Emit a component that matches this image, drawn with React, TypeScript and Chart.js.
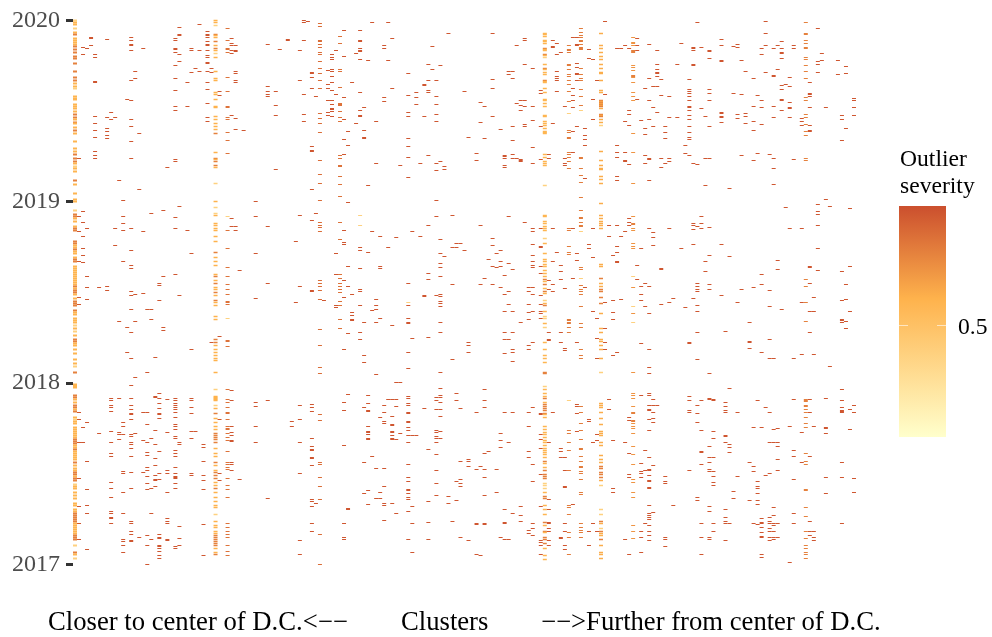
import React, { useEffect, useRef } from "react";
import { Chart, registerables } from "chart.js";

Chart.register(...registerables);

// x = cluster number, ordered by distance from the centre; y = two-day period counted from Jan 2017.
const yearTicks = [0, 181.33, 362.67, 544];
const yearLabels = ["2017", "2018", "2019", "2020"];
const xAxisParts = ["Closer to center of D.C.<−−", "Clusters", "−−>Further from center of D.C."];

const marks2019to2020: [number, number[]][] = [
  [0, [544,542,540,536,532,530,526,524,522,520,518,515,512,508,506,501,493,487,484,481,478,476,468,466,465,460,458,456,453,450,447,445,442,441,437,434,431,423,416,413,410,406,403,401,398,396,393,384,380,371,365]],
  [1, [406]], [2, [517,510]], [3, [516]], [4, [527,526,519]],
  [5, [510,507,483,482,448,441,434,427,413,409,406]],
  [8, [525,447,436,433,429,426]], [9, [452,445]], [10, [447]], [11, [384]], [13, [465]],
  [14, [527,524,520,519,514,484,464,445,438,423,406]], [15, [493,486]], [16, [431,375]], [17, [516]], [23, [397]],
  [25, [526,524,516,515,512,499,486,474,458,454,405,403]],
  [26, [537,530,529,510,503]], [28, [482,458]], [29, [516,514,492]], [30, [496]], [31, [540,514,493]],
  [33, [533,530,529,527,523,520,519,514,509,507,502,501,493,482,475,461,447,443]], [34, [496,492]],
  [35, [544,542,539,530,529,527,523,519,516,514,511,507,493,486,484,472,470,465,458,457,448,445,441,438,435,431,412,406,405,403,399,397,381]],
  [36, [473,469]], [38, [536,524,516,515,512,487,473,458,457,447,445,432,424,411]],
  [39, [526,521,519,514,511,449]], [40, [519,514,513,493,491,484,482,446,435]], [42, [434]],
  [48, [520,478,473,470,468]], [50, [473,459,449,395]], [51, [515]], [53, [525,524]], [56, [514,484]],
  [57, [544,542,524,470,450,443]], [58, [543]], [59, [492,491,487,476,418,414,413,375]], [60, [468]],
  [61, [541,538,524,523,520,517,512,510,503,496,491,484,476,451,446,441,432,404,390,381]],
  [63, [494,480,476,464,452,449]], [64, [510,507,505,495,493,488,482,474,464,460,456,455,453,448]], [65, [514,470]],
  [66, [528,521,495,493,477,461,460,459,453,447,443,409,406,399,398,388,380,368]],
  [67, [534,508,467,445,425,410]], [68, [433,419]], [69, [482]], [70, [511,441]],
  [71, [534,524,523,516,514,513,505,472,454,449,448]], [72, [457,434,427,426]], [73, [504,379]], [74, [542]], [75, [443,401]],
  [77, [519,516,467,463]], [78, [542,504]], [79, [526,476]], [81, [399]], [83, [491,469,452,448,426,418,407,387]],
  [85, [472,467,460]], [86, [401]], [87, [448,480,479]], [88, [500,484,474,472,409]], [89, [518,495]],
  [90, [484,468,460,450,443,401,394]], [91, [499,403]], [92, [398,395]], [93, [531]], [97, [473]], [98, [427]],
  [100, [411,404]], [101, [462,442]], [102, [458,426]], [104, [531,485,476,448]], [106, [435]],
  [107, [409,408,406,399,397]], [108, [493,490]], [109, [493,486,438,424,410,406]], [110, [519,461,406]],
  [111, [464,459,454,405,404,403]], [112, [526,524,500,464,458,440,438]], [114, [496,458,444,417,401]],
  [116, [474,471,438,405]],
  [117, [531,530,528,524,523,521,516,515,514,510,509,507,500,496,495,492,490,484,483,482,476,472,465,464,461,458,449,448,443,441,439,436,433,432,431,410,407,403,401,399,379]],
  [118, [410,406]], [119, [524,518,517,441]], [120, [521,510,493,488,486,484,473]], [121, [512]], [122, [458,406,401,399]],
  [123, [519,515,514,512,500,499,495,490,488,484,480,473,463,451,434,432,427,426,412,410,407,403,396]],
  [124, [527,476,469,464,457,433,412]], [125, [527,520,519,501,497,491,490,484,438]],
  [126, [536,532,529,527,524,523,520,517,516,515,496,490,486,484,475,468,459,454,407,406,396,389,382,367]],
  [127, [436,429,425,419,386]], [128, [515,506]], [129, [505,465,445]], [130, [484]],
  [131, [531,519,516,512,508,505,500,496,492,491,484,474,472,464,463,462,461,460,459,458,456,450,449,448,445,442,439,413,404,399,396,395,388,385,381]],
  [132, [543,470]], [135, [516,419,412,407,388,384]], [136, [516]], [137, [519,443,412,404,403]],
  [138, [516,454,450,439,400]],
  [139, [527,522,521,519,514,513,512,499,497,494,489,488,487,482,472,468,464,431,412,381]],
  [140, [526,519,514,465]], [141, [444]], [142, [476,436,430,409,401]], [143, [520,486,464,445,384,406,405]],
  [144, [478,457,438]], [145, [514,500,495,492,491,488,478,452]], [146, [485,469,406,397]], [147, [438,432,426,401]],
  [148, [468,447,406,403]], [150, [500,447]], [151, [521]], [152, [419,411]],
  [153, [485,475,473,471,468,464,458,457,454,449,445,438,432,427,425,409]], [154, [517,516,514,500,499,401]],
  [155, [542,400]], [156, [517,456]], [157, [448,406,379]], [158, [514,513,506,475,471,464,438,406]],
  [161, [525,519,504,503,452,451,448,447,442]], [163, [376]], [164, [518,471]], [165, [520,517,450,446]],
  [166, [504,470,409]], [167, [493,451,448,441]], [169, [486,458,443,434,404]], [170, [469,411]],
  [171, [516,510,464,457,440]], [172, [543,531,519,492]], [173, [410]], [174, [516,489,488,458,447,406,396,380]],
  [175, [519,495]], [176, [523,516,512,511,506,479,475,465,464,454]], [177, [480]],
  [178, [487,478,462,457,456,447]], [179, [519,516,405]], [181, [446,443,439]],
  [182, [542,531,530,524,521,517,516,507,505,499,493,486,467,464,450,447,440,433,429,406,404]],
  [183, [482,471,470,468,457,439,434,433]], [185, [536,503,500,492]], [186, [511,504]], [187, [457,365]],
  [190, [504,490]], [191, [449,445,424]], [192, [498,491,436]], [194, [466,464,457,449]],
];

const marks2018to2019: [number, number[]][] = [
  [0, [363,354,350,348,346,343,338,336,334,323,321,319,317,315,313,311,307,305,303,298,296,294,292,290,288,286,284,282,280,278,276,274,272,270,266,263,261,259,254,252,250,246,244,242,239,236,233,229,225,223,221,219,215,211,205,201,198,192,180,178,167,165]],
  [1, [348,333,303,267,260]], [2, [353,342,328,316,309,302]], [3, [336,288,277,265]], [6, [277]], [8, [278,274]], [9, [166]],
  [10, [336,319]], [11, [243,166]], [12, [364,348,341,334,303]], [13, [237,212]],
  [14, [336,314,299,296,273,269,255,232,206,179,166]], [15, [270,243,187]], [17, [333,271]], [18, [255,192]],
  [19, [351,255,245]], [20, [207,168,167]], [21, [281,279,264,171,166]], [22, [354,288,237,234]], [23, [165]],
  [25, [347,336,290,166]], [26, [358,269]], [28, [334]], [29, [311,215,166]], [34, [222]],
  [35, [363,357,351,349,341,339,336,334,328,323,312,307,303,299,290,288,284,281,277,275,272,269,264,262,259,248,245,225,222,219,215,212,209,206,204,192,175,167,165]],
  [36, [228]], [38, [348,334,316,297,288,280,275,270,263,262,260,246,224,223,218,175,165]], [39, [346,338,174]],
  [40, [338,334]], [41, [294]], [45, [363,348,311,266]], [48, [338,281]], [55, [323,262]], [56, [349,278]],
  [59, [344,274,273]], [60, [351]],
  [61, [364,342,339,337,333,284,281,278,274,265,235,219,197,191]], [62, [264]], [65, [311,290,259,257]],
  [66, [342,325,290,286,281,278,275,272,263,259,245,236]], [67, [334,322,320,284,267,215]],
  [68, [362,298,278,231,170]], [69, [270,252,249,245,244]],
  [71, [349,339,317,314,296,275,273,259,232,225]], [72, [242,209,202]], [73, [312,169]], [74, [333,254]],
  [75, [265,259,255,242,190]], [76, [328,298,296,246]], [78, [317,165]], [79, [239,165]], [80, [327,182]],
  [83, [281,262,259,246,242,241,212,196,168,166]], [84, [333,226]], [86, [328]], [87, [269,268]], [88, [227,339,291,285]],
  [90, [364,348,269,167]], [91, [325,311,301,297,288,270,268,263,261,258,242,232,192,176,169,167]], [92, [308]],
  [94, [349,317,280,205]], [95, [321,317,171]], [96, [321]], [97, [314]], [98, [222,219,212]],
  [101, [339,280]], [102, [286,175]], [103, [305]], [104, [326,319,298,280]], [105, [311,297]],
  [106, [314,303,298,277]], [107, [289,270,253,232,225,211]], [108, [348,301,273,260,225]],
  [109, [295,253,232,215,212,203]], [111, [242]], [112, [342]], [113, [277,273,260,252,245,219,215]],
  [114, [336,333,320,309,303,299,297,277,270,253,222]], [116, [336,318,317,298,291,269,260,253,251,246]],
  [117, [349,348,343,341,338,336,334,326,321,311,305,303,300,298,294,291,288,285,283,280,276,273,271,264,261,259,253,248,246,241,237,222,215,209,206,202,192,191,178,175,171,168,166]],
  [118, [284,275,232,225,224]], [119, [336,303,280,273]], [120, [312]], [121, [299,293,285,232,222]], [122, [276,216,214]],
  [123, [336,334,318,312,310,245,244,242,241,237,232]], [124, [336,286]], [125, [311,304,222]],
  [126, [354,347,346,342,339,338,333,297,295,286,279,275,273,270,258,241,237,215,209,206]],
  [127, [277]], [128, [320,316]], [129, [336,307,253]], [130, [246,226,206]],
  [131, [361,349,346,343,341,339,336,300,298,286,281,278,275,273,267,261,251,236,232,225,223,219,215,206,192]],
  [132, [262,236,222,215]], [133, [339,328]], [134, [264,252,245,309,209]], [135, [339,318,312,303,302,212]], [136, [328,265]],
  [137, [333]], [138, [346,342,339]],
  [139, [348,341,340,336,334,321,318,316,288,277,258,251,242,192,171,169,166]], [140, [299,285]],
  [141, [316,278,270,264,221,169]], [142, [281,258]], [143, [336,278,251,215,197,191,171,169]],
  [144, [332,327,319,165]], [146, [296,295,260]], [148, [336,262]], [149, [266]], [151, [316]], [152, [257]],
  [153, [222,221,168]], [154, [341,339,335,320,266]], [155, [338,281,278,275,273,259,253,232,205]],
  [156, [348,341,336]], [157, [303,293]], [158, [337,309,280,275,191,166,165]], [161, [320,269]], [162, [233]],
  [163, [308,176]], [165, [262]], [166, [275]], [168, [242,223,222,216]], [169, [277]], [171, [290,280,212]],
  [173, [274,258,225,206]], [174, [206]], [175, [304,295]], [176, [255]], [177, [357]], [178, [336]],
  [179, [206,165]], [181, [336,262,210]], [182, [285,278,262,243,165]], [183, [298,297,281,253,232,165]],
  [184, [267,253,210]], [185, [360,353,350,339,316,294]], [187, [166]], [188, [358,198]],
  [191, [293,264,245,244,242,175]], [192, [280,265,243,236]], [193, [356,298,253]],
];

const marks2017to2018: [number, number[]][] = [
  [0, [179,177,169,167,165,162,159,157,155,153,147,145,143,141,137,135,133,131,129,127,125,123,121,119,117,115,113,111,109,107,105,102,99,96,94,92,90,88,86,84,80,78,76,72,69,66,61,59,55,53,51,49,47,45,43,41,39,37,35,33,31,29,27,25,19,12,10,6]],
  [1, [152,145,122,86,58,41,25]], [2, [137,122]], [3, [142,103,75,59,51,15]], [6, [131]],
  [9, [166,164,159,157,153,133,122,111,108,82,76,67,53,51,47,46,41]], [11, [166,132,130,125]],
  [12, [142,138,130,93,91,72,51,25,23,19,12]],
  [14, [179,166,159,155,151,150,145,130,128,122,120,116,108,92,76,43,41,33,30,24,23]], [15, [131]], [16, [27]],
  [17, [152,124,92]], [18, [152,140,122,112,109,97,94,88,81,75,29,19,0]], [19, [126,76,51,25]],
  [20, [168,167,134,120,106,99,89,85,84,78]], [21, [171,166,161,156,151,150,146,113,91,85,30,27,26,19,18,16,13,9,6]],
  [23, [165,132,94,91,72,46,43,41,25,24]],
  [25, [166,164,161,159,157,155,152,147,140,138,135,128,126,114,111,108,97,91,88,87,86,81,76,18,16]],
  [26, [122,120,38,26,19]], [29, [166,164,157,151,133,126,91,89]], [30, [133]], [32, [120,117,103,89,84,75,40,9]],
  [35, [175,168,166,164,159,156,151,146,142,138,135,131,129,127,125,122,116,111,108,102,99,94,92,89,86,82,79,76,72,67,63,59,57,50,43,39,37,33,31,29,27,25,23,21,19,16,12,10]],
  [36, [145,91,84]],
  [38, [175,165,162,157,152,151,145,138,136,135,131,127,124,113,102,100,97,95,86,79,75,67,41,37,33,30,27,19,13,9]],
  [39, [174,164,138,132,129,124,123,102,100,94]], [41, [85]], [45, [162,158,138,122]], [48, [164,66]], [54, [143,138]],
  [56, [159,145,122,91,24,10]],
  [59, [160,157,153,126,118,115,114,107,106,99,65,63,58,41,33]], [60, [61]],
  [61, [150,144,102,100,87,78,65,30,0]], [67, [162,154,119,41,27,25]], [68, [170,56,55]], [72, [157,102,71]],
  [73, [169,161,154,153,138,133,132,130,126,125,74,60]], [74, [108]], [75, [96,66]], [76, [147,72,66]],
  [77, [159,152,143,141,96,78,61,59,44]], [79, [165,148,140,139,133,132,129,126,125,61]], [80, [165,158,125,51]],
  [81, [182,131]], [83, [168,166,161,159,152,151,143,142,137,134,129,122,100,87,83,75,74,71,67,65,53,25]],
  [84, [129,58,41,12]], [85, [129]], [87, [156]], [88, [115,63,42,25]],
  [90, [167,164,155,134,132,128,126,122,110,94,81,69]], [91, [176,169,167,162,155,148,133,126]],
  [93, [68,61]], [94, [43]], [95, [171,164,83,64]], [96, [156,103,85,81,78,27]], [98, [105,103,98,24]],
  [100, [152,95,10,41,40]], [101, [98,9]], [102, [175,164,157,111,95,87,69,41,40]], [103, [113]], [105, [95,72]],
  [106, [131,124,117,27]], [107, [152,55,42,41,25]], [108, [122,25]], [109, [152,51]], [111, [58,49,43]],
  [113, [152,138,113,107,34,31]], [114, [157,100,83,41,36,29]],
  [116, [151,150,130,125,116,90,58,24,22,19,10]],
  [117, [178,175,171,168,166,162,160,158,156,154,151,150,147,138,135,132,130,127,124,122,119,116,114,112,110,107,103,101,97,94,90,88,86,81,79,76,72,68,66,59,55,50,42,39,33,32,27,25,21,16,9,5]],
  [118, [122,65,55,42,41,36,33,24,19]], [119, [152]], [121, [116,113,107,27,26]], [122, [107,94,78,77,41,33,19,15]],
  [123, [164,134,131,122,114,94,59,57,50,32,27,10]], [124, [60]], [125, [160,158,151,133]],
  [126, [158,152,141,134,125,116,115,108,103,98,97,93,91,85,72,70,41,37,34,32,27]], [128, [145,143,33,19]],
  [129, [122,41]], [130, [130,124,33]],
  [131, [161,159,157,152,146,140,133,131,129,122,119,109,105,102,98,96,92,90,87,84,79,55,50,43,41,36,33,31,29,25,19,12,10,6]],
  [133, [165,155]], [134, [124,76,72]], [137, [122,25]], [138, [147,144,111,90,87,10]],
  [139, [171,169,166,158,152,151,144,143,141,138,136,131,118,110,100,85,82,72,67,39,33,26]],
  [141, [169,101,93,91,87,33,27,12]], [142, [114,94,41]],
  [143, [171,169,159,155,154,145,134,107,95,94,89,84,83,77,76,59,51,49,47,45,39,33,29,24]],
  [144, [165,159,152,146,142,99,52]], [145, [159]], [147, [88,83,81,27,25,18]], [149, [59]],
  [153, [164,154,152,94]], [155, [159,151,142,67,64]], [156, [164,134,113,112,100,41,27,10]],
  [158, [118,107,102,95,93,58,53,27,25]], [159, [165,164,133,126,107,93,88,82,79,41,33]],
  [162, [162,158,154,152,129,128,122,55,47,43,41,24]], [163, [176,120,117,112,41]], [164, [73,66]], [165, [152,88]],
  [168, [102,64]], [169, [137,98,93,41]], [170, [164,83,78,76,71,64,60,40]],
  [171, [137,46,42,41,37,32,28,27,10,7]], [172, [157,89]], [173, [152,122,91,47,43,41,36,33,27,24]],
  [174, [135,122,57,49,41,39,33,27,25]], [175, [136,122,118,105,94,41,27]], [178, [138,2]],
  [179, [165,114,108,85,51,41]], [181, [132,102]],
  [182, [164,163,159,158,155,152,147,141,137,111,103,100,75,74,57,48,33,26,19,16,12,10,6]],
  [183, [165,152,108,43,33,29]], [184, [138,33,27,24]], [187, [166,137,136,131,87,71]],
  [191, [175,164,157,154,153,152,102,87,41]], [193, [155,135]], [194, [159,152,86,72]],
];

// Severity of each cluster's ordinary marks; other clusters read as the top of the scale.
const clusterSeverity: [number, number][] = [
  [0, 0.58], [35, 0.6], [117, 0.58], [131, 0.62], [139, 0.72], [123, 0.82], [126, 0.82], [182, 0.8], [66, 0.86], [61, 0.88], [38, 0.86],
];
const ordinarySeverity = 0.97;

// Marks inside the busy clusters that are visibly darker or paler than their neighbours.
const strongerMarks: [number, number[]][] = [
  [0, [530,518,515,512,508,506,501,493,487,484,450,447,442,434,410,406,403,384,350,348,336,334,323,321,315,305,303,278,274,272,263,261,259,254,225,223,192,169,167,159,157,153,125,123,121,115,102,92,90,86,84,51,49,47,45,43,29,27,25,12]],
  [35, [530,523,516,431,406,403,399,312,288,281,272,264,225,222,151,131,129,127,125,122,102,92,89,86,76,29,27,25,23,21,19,10]],
  [117, [516,510,496,484,285,280,273,259,192,191,166,160,158,156,154,151,103,94,90,88,86,68,66,42,33,27,25,21]],
  [131, [464,462,460,458,450,448,286,275,273,267,261,98,96,92,90,87,43,33,25]],
  [139, [514,513,512,489,488,341,340,152,151,144,143]],
];
const paleMarks: [number, number[]][] = [
  [0, [544,536,496,476,398,354,239,233,198,145,80,19,6]],
  [35, [539,511,381,357,351,175,159,50]],
  [117, [507,379,326,264,248,246,237,178,81,79,76]],
  [131, [439,192,79,55,50,36]],
  [25, [441]], [38, [348,246]], [71, [349,339]], [83, [262]], [123, [451,164]], [126, [454,333,286]], [139, [288,258,242]],
];

// Busiest clusters: how many periods one of their marks covers.
const markSpan: [number, number][] = [[0, 2], [35, 1.5], [117, 1.5], [131, 1.5]];

const legendTitle = ["Outlier", "severity"];
const legendLabel = "0.5";
const legendStops: [number, string][] = [[0, "#ffffcc"], [0.6, "#feb24c"], [1, "#cb4f2e"]];

const hex = (s: string) => [1, 3, 5].map((i) => parseInt(s.slice(i, i + 2), 16));
function severityColor(t: number) {
  for (let i = 1; i < legendStops.length; i++) {
    const [t0, c0] = legendStops[i - 1];
    const [t1, c1] = legendStops[i];
    if (t <= t1) {
      const f = (t - t0) / (t1 - t0);
      const a = hex(c0);
      const b = hex(c1);
      return `rgb(${a.map((v, j) => Math.round(v + (b[j] - v) * f)).join(",")})`;
    }
  }
  return legendStops[legendStops.length - 1][1];
}

function buildPoints() {
  const base = new Map(clusterSeverity);
  const spans = new Map(markSpan);
  const key = (k: number, v: number) => `${k}:${v}`;
  const strong = new Set<string>();
  const pale = new Set<string>();
  strongerMarks.forEach(([k, vs]) => vs.forEach((v) => strong.add(key(k, v))));
  paleMarks.forEach(([k, vs]) => vs.forEach((v) => pale.add(key(k, v))));
  const seen = new Set<string>();
  const points: { x: number; y: number }[] = [];
  const colors: string[] = [];
  const widths: number[] = [];
  [marks2019to2020, marks2018to2019, marks2017to2018].forEach((table) =>
    table.forEach(([k, vs]) =>
      vs.forEach((v) => {
        const id = key(k, v);
        if (seen.has(id)) return;
        seen.add(id);
        points.push({ x: k, y: v });
        const s = pale.has(id) ? 0.36 : strong.has(id) ? 0.8 : base.get(k) ?? ordinarySeverity;
        colors.push(severityColor(s));
        widths.push(spans.get(k) ?? 1);
      })
    )
  );
  return { points, colors, widths };
}

const colorbarPlugin = {
  id: "colorbar",
  afterDraw(chart: Chart) {
    const ctx = chart.ctx;
    const x = 899, y = 206, w = 47, h = 231;
    const grad = ctx.createLinearGradient(0, y + h, 0, y);
    legendStops.forEach(([t, c]) => grad.addColorStop(t, c));
    ctx.save();
    ctx.fillStyle = grad;
    ctx.fillRect(x, y, w, h);
    ctx.fillStyle = "rgba(255,255,255,0.6)";
    ctx.fillRect(x, 325, 9, 1);
    ctx.fillRect(x + w - 9, 325, 9, 1);
    ctx.fillStyle = "#000";
    ctx.font = '23.6px "Liberation Serif"';
    ctx.textBaseline = "alphabetic";
    ctx.textAlign = "left";
    ctx.fillText(legendTitle[0], 900, 166);
    ctx.fillText(legendTitle[1], 900, 193);
    ctx.fillText(legendLabel, 958, 334);
    ctx.font = '26.67px "Liberation Serif"';
    ctx.fillText(xAxisParts[0], 48, 630);
    ctx.fillText(xAxisParts[1], 401, 630);
    ctx.fillText(xAxisParts[2], 541, 630);
    ctx.restore();
  },
};

export default function App() {
  const ref = useRef<HTMLCanvasElement>(null);
  useEffect(() => {
    document.body.style.margin = "0";
    const { points, colors, widths } = buildPoints();
    const chart = new Chart(ref.current!, {
      type: "scatter",
      data: {
        datasets: [
          {
            data: points,
            pointStyle: "line",
            pointRadius: 2,
            pointBorderWidth: widths,
            pointBorderColor: colors,
            pointBackgroundColor: colors,
            clip: false,
          } as any,
        ],
      },
      options: {
        responsive: false,
        animation: false,
        events: [],
        layout: { padding: { top: 5, right: 136, left: 0, bottom: 0 } },
        plugins: { legend: { display: false }, tooltip: { enabled: false } },
        scales: {
          x: {
            type: "linear",
            min: -0.5,
            max: 194.5,
            grid: { display: false },
            border: { display: false },
            ticks: { display: false },
            afterFit(scale: any) {
              scale.height = 57;
            },
          },
          y: {
            type: "linear",
            min: -15.5,
            max: 549.5,
            afterBuildTicks(scale: any) {
              scale.ticks = yearTicks.map((value) => ({ value }));
            },
            afterFit(scale: any) {
              scale.width = 73;
            },
            grid: { drawOnChartArea: false, drawTicks: true, tickLength: 7, tickWidth: 3, tickColor: "#333333", color: "#333333" },
            border: { display: false },
            ticks: {
              color: "#4d4d4d",
              padding: 6,
              font: { family: "Liberation Serif", size: 24 },
              callback: (value: any) => yearLabels[yearTicks.indexOf(value)],
            },
          },
        },
      },
      plugins: [colorbarPlugin],
    } as any);
    // One data unit is one pixel: v = 544 sits on the row at y = 20.5.
    const area = chart.chartArea;
    const yOpts = (chart.options.scales as any).y;
    yOpts.max = 544 + (20.5 - area.top);
    yOpts.min = yOpts.max - (area.bottom - area.top);
    chart.update();
    return () => chart.destroy();
  }, []);
  return <canvas ref={ref} width={992} height={637} style={{ display: "block" }} />;
}
